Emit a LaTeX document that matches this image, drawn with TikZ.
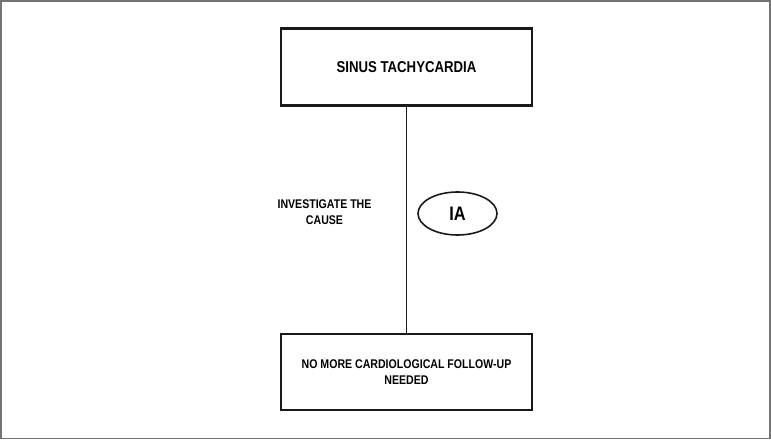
\documentclass[tikz,border=0pt]{standalone}
\usepackage{fontspec}
\setmainfont{Liberation Sans}[FakeStretch=0.84]
\usepackage{tikz}
\usetikzlibrary{positioning,shapes.geometric}

\begin{document}
\begin{tikzpicture}[
    x=1pt, y=1pt,
    font=\bfseries\fontsize{12.6}{16}\selectfont,
    box/.style={draw=black!90, line width=2.2pt, align=center,
      minimum width=251pt, inner sep=0pt},
    link/.style={draw=black!90, line width=1.8pt},
    grade/.style={draw=black!90, line width=1.6pt, ellipse, minimum width=79pt,
      minimum height=43pt, inner sep=0pt},
    lbl/.style={align=center, inner sep=0pt},
  ]
    \useasboundingbox (0,0) rectangle (771,440);
    % --- outer frame ---
    \draw[black!55, line width=1.8pt] (1,1.5) rectangle (770,438.6);

    % --- boxes ---
    \node[box, minimum height=77pt, font=\bfseries\fontsize{15.7}{18}\selectfont]
      (sinus) at (406.5,373) {SINUS TACHYCARDIA};
    \node[box, minimum height=76pt] (nofollow) at (406.5,68)
      {NO MORE CARDIOLOGICAL FOLLOW-UP\\NEEDED};
    \draw[link] (sinus.south) -- (nofollow.north);

    % class of recommendation / label
    \node[grade, font=\bfseries\fontsize{19.5}{20}\selectfont] (ia) at (457.5,226.5) {IA};
    \node[lbl] (cause) at (324.5,228) {INVESTIGATE THE\\CAUSE};
  \end{tikzpicture}
\end{document}
